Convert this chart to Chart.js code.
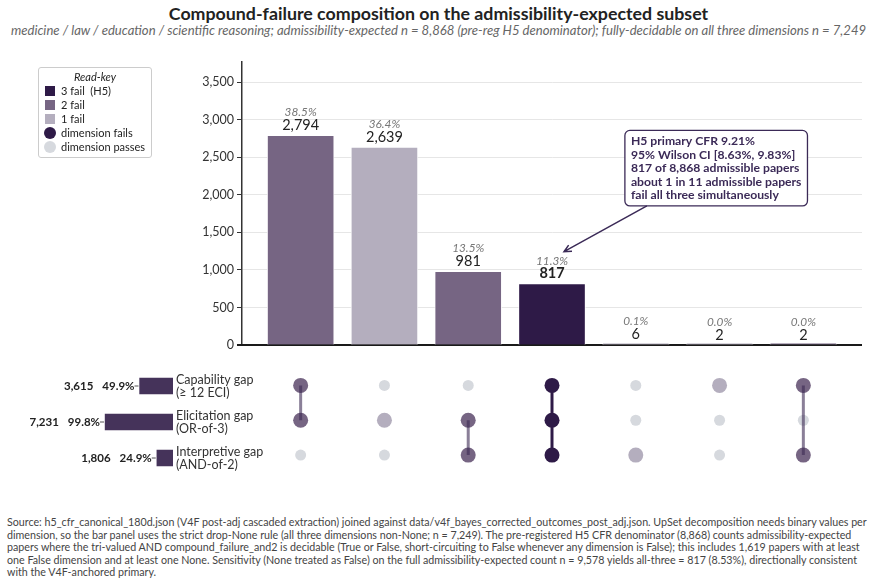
<!DOCTYPE html>
<html>
<head>
<meta charset="utf-8">
<script src="https://cdn.jsdelivr.net/npm/chart.js@4.4.1/dist/chart.umd.min.js"></script>
<style>
  body { margin: 0; background: #fff; font-family: Lato, "Noto Sans", sans-serif; }
  #wrap { position: relative; width: 877px; height: 583px; overflow: hidden; background: #fff; }
  #wrap canvas { position: absolute; }
  #title { position: absolute; left: 0; top: 2px; width: 877px; text-align: center; font-weight: bold; font-size: 17.8px; color: #222; }
  #subtitle { position: absolute; left: 0; top: 22px; width: 877px; text-align: center; font-style: italic; font-size: 13.1px; color: #666; white-space: nowrap; }
  #legend { position: absolute; left: 38px; top: 67px; width: 112px; height: 89px; border: 1px solid #ccc; border-radius: 3px; font-size: 11px; color: #222; }
  #legend .hd { text-align: center; font-style: italic; margin-top: 1px; height: 15px; line-height: 15px; }
  #legend .it { position: relative; height: 14px; line-height: 14px; padding-left: 22px; }
  #legend .mk { position: absolute; left: 6px; top: 2px; width: 10px; height: 10px; }
  #legend .dot { position: absolute; left: 5px; top: 1px; width: 12px; height: 12px; border-radius: 50%; }
  #footer { position: absolute; left: 7px; top: 516px; font-size: 10.7px; line-height: 12.6px; color: #444; white-space: nowrap; }
</style>
</head>
<body>
<div id="wrap">
  <div id="title">Compound-failure composition on the admissibility-expected subset</div>
  <div id="subtitle">medicine / law / education / scientific reasoning; admissibility-expected n = 8,868 (pre-reg H5 denominator); fully-decidable on all three dimensions n = 7,249</div>
  <canvas id="bars" width="877" height="360" style="left:0;top:0;width:877px;height:360px"></canvas>
  <canvas id="matrix" width="877" height="120" style="left:0;top:360px;width:877px;height:120px"></canvas>
  <canvas id="sets" width="300" height="120" style="left:0;top:360px;width:300px;height:120px"></canvas>
  <div id="legend">
    <div class="hd">Read-key</div>
    <div class="it"><span class="mk" style="background:#2e1a47"></span>3 fail&nbsp; (H5)</div>
    <div class="it"><span class="mk" style="background:#766583"></span>2 fail</div>
    <div class="it"><span class="mk" style="background:#b4aebe"></span>1 fail</div>
    <div class="it"><span class="dot" style="background:#2e1a47"></span>dimension fails</div>
    <div class="it"><span class="dot" style="background:#d6d9de"></span>dimension passes</div>
  </div>
  <div id="footer">Source: h5_cfr_canonical_180d.json (V4F post-adj cascaded extraction) joined against data/v4f_bayes_corrected_outcomes_post_adj.json. UpSet decomposition needs binary values per<br>dimension, so the bar panel uses the strict drop-None rule (all three dimensions non-None; n = 7,249). The pre-registered H5 CFR denominator (8,868) counts admissibility-expected<br>papers where the tri-valued AND compound_failure_and2 is decidable (True or False, short-circuiting to False whenever any dimension is False); this includes 1,619 papers with at least<br>one False dimension and at least one None. Sensitivity (None treated as False) on the full admissibility-expected count n = 9,578 yields all-three = 817 (8.53%), directionally consistent<br>with the V4F-anchored primary.</div>
</div>
<script>
// intersection counts, left to right (n = 7,249 fully decidable)
const counts = [2794, 2639, 981, 817, 6, 2, 2];
// which dimension fails in each intersection (1 = fails)
const capFail    = [1, 0, 0, 1, 0, 1, 1];
const elicFail   = [1, 1, 1, 1, 0, 0, 0];
const interpFail = [0, 0, 1, 1, 1, 0, 1];
const decidableN = 7249;
const yTicks = [0, 500, 1000, 1500, 2000, 2500, 3000, 3500];

const dimNames = [['Capability gap', '(≥ 12 ECI)'], ['Elicitation gap', '(OR-of-3)'], ['Interpretive gap', '(AND-of-2)']];
const setSizes = [3615, 7231, 1806];

const annotLines = [
  'H5 primary CFR 9.21%',
  '95% Wilson CI [8.63%, 9.83%]',
  '817 of 8,868 admissible papers',
  'about 1 in 11 admissible papers',
  'fail all three simultaneously'
];

const failColors = { 1: '#b4aebe', 2: '#766583', 3: '#2e1a47' };
const passColor = '#d6d9de';
const FONT = 'Lato, "Noto Sans", sans-serif';

const rows = [capFail, elicFail, interpFail];
const nFail = counts.map((_, i) => capFail[i] + elicFail[i] + interpFail[i]);
const colColors = nFail.map(n => failColors[n]);
const xMin = -0.7, xMax = counts.length - 0.3;

// baseline + bar labels + annotation callout
const barDeco = {
  id: 'barDeco',
  beforeDatasetsDraw(chart) {
    const { ctx, chartArea, scales } = chart;
    const y0 = scales.y.getPixelForValue(0);
    ctx.save();
    ctx.strokeStyle = '#1a1a1a';
    ctx.lineWidth = 2;
    ctx.beginPath();
    ctx.moveTo(chartArea.left - 5, y0);
    ctx.lineTo(chartArea.right, y0);
    ctx.stroke();
    ctx.restore();
  },
  afterDatasetsDraw(chart) {
    const { ctx, scales } = chart;
    const xs = scales.x, ys = scales.y;
    ctx.save();
    ctx.textAlign = 'center';
    ctx.textBaseline = 'middle';
    counts.forEach((v, i) => {
      const x = xs.getPixelForValue(i);
      const top = ys.getPixelForValue(v);
      ctx.fillStyle = '#777';
      ctx.font = 'italic 11.8px ' + FONT;
      ctx.fillText((v / decidableN * 100).toFixed(1) + '%', x, top - 23);
      ctx.fillStyle = '#222';
      ctx.font = (nFail[i] === 3 ? 'bold ' : '') + '14.5px ' + FONT;
      ctx.fillText(v.toLocaleString('en-US'), x, top - 10);
    });

    // callout box
    const bx = xs.getPixelForValue(3.87);
    const by = ys.getPixelForValue(2860);
    ctx.font = 'bold 12.2px ' + FONT;
    const w = Math.max(...annotLines.map(t => ctx.measureText(t).width)) + 12;
    const h = annotLines.length * 13.5 + 8;
    ctx.fillStyle = '#fff';
    ctx.strokeStyle = '#3b2a57';
    ctx.lineWidth = 1.3;
    ctx.beginPath();
    ctx.roundRect(bx, by, w, h, 5);
    ctx.fill();
    ctx.stroke();
    ctx.fillStyle = '#3b2a57';
    ctx.textAlign = 'left';
    annotLines.forEach((t, k) => ctx.fillText(t, bx + 6, by + 11 + k * 13.5));

    // arrow to the all-three bar
    const sx = bx + 22, sy = by + h;
    const tx = xs.getPixelForValue(3) + 12, ty = ys.getPixelForValue(817) - 32;
    const a = Math.atan2(ty - sy, tx - sx);
    ctx.strokeStyle = '#3b2a57';
    ctx.lineWidth = 1.5;
    ctx.beginPath();
    ctx.moveTo(sx, sy);
    ctx.lineTo(tx, ty);
    ctx.moveTo(tx - 8 * Math.cos(a - 0.45), ty - 8 * Math.sin(a - 0.45));
    ctx.lineTo(tx, ty);
    ctx.lineTo(tx - 8 * Math.cos(a + 0.45), ty - 8 * Math.sin(a + 0.45));
    ctx.stroke();
    ctx.restore();
  }
};

new Chart(document.getElementById('bars'), {
  type: 'bar',
  data: {
    datasets: [{
      data: counts.map((v, i) => ({ x: i, y: v })),
      backgroundColor: colColors,
      borderColor: 'rgba(255,255,255,0.8)',
      borderWidth: 1,
      minBarLength: 2,
      barThickness: 67
    }]
  },
  options: {
    responsive: false,
    animation: false,
    layout: { padding: { left: 190, right: 15, top: 62, bottom: 15 } },
    plugins: { legend: { display: false }, tooltip: { enabled: false } },
    scales: {
      x: { type: 'linear', min: xMin, max: xMax, offset: false, display: false },
      y: {
        min: 0,
        max: Math.max(...counts) * 1.35,
        afterFit: s => { s.width = 52; },
        afterBuildTicks: s => { s.ticks = yTicks.map(v => ({ value: v })); },
        border: { color: '#333', width: 1.5 },
        grid: { color: '#e6e6e6', tickColor: '#333', tickLength: 5 },
        ticks: {
          padding: 3,
          color: '#333',
          font: { family: FONT, size: 12.5 },
          callback: v => v.toLocaleString('en-US')
        }
      }
    }
  },
  plugins: [barDeco]
});

// matrix: dots and connectors
const passPts = [], failPts = [], failCols = [], connectors = [];
counts.forEach((_, c) => {
  const failedRows = [];
  rows.forEach((r, k) => {
    if (r[c]) { failPts.push({ x: c, y: k }); failCols.push(colColors[c]); failedRows.push(k); }
    else passPts.push({ x: c, y: k });
  });
  if (failedRows.length > 1) {
    connectors.push({
      type: 'line',
      data: [{ x: c, y: Math.min(...failedRows) }, { x: c, y: Math.max(...failedRows) }],
      borderColor: nFail[c] === 3 ? '#2e1a47' : 'rgba(60,42,84,0.6)',
      borderWidth: 3,
      pointRadius: 0,
      order: 0
    });
  }
});

new Chart(document.getElementById('matrix'), {
  type: 'scatter',
  data: {
    datasets: [
      ...connectors,
      { data: passPts, pointRadius: 5.5, pointBackgroundColor: passColor, pointBorderWidth: 0, order: 2 },
      { data: failPts, pointRadius: 7.5, pointBackgroundColor: failCols, pointBorderWidth: 0, order: 1 }
    ]
  },
  options: {
    responsive: false,
    animation: false,
    layout: { padding: { left: 242, right: 15, top: 8, bottom: 4 } },
    plugins: { legend: { display: false }, tooltip: { enabled: false } },
    scales: {
      x: { type: 'linear', min: xMin, max: xMax, display: false },
      y: { type: 'linear', min: -0.5, max: 2.5, reverse: true, display: false }
    }
  }
});

// set-size bars and row labels
const setDeco = {
  id: 'setDeco',
  afterDatasetsDraw(chart) {
    const { ctx, scales } = chart;
    ctx.save();
    ctx.textBaseline = 'middle';
    setSizes.forEach((v, k) => {
      const y = scales.y.getPixelForValue(k);
      const left = scales.x.getPixelForValue(v);
      const right = scales.x.getPixelForValue(0);
      ctx.strokeStyle = '#555';
      ctx.lineWidth = 1;
      ctx.beginPath();
      ctx.moveTo(left - 4, y);
      ctx.lineTo(left, y);
      ctx.stroke();
      ctx.fillStyle = '#222';
      ctx.font = 'bold 11.5px ' + FONT;
      ctx.textAlign = 'right';
      const pct = (v / decidableN * 100).toFixed(1) + '%';
      ctx.fillText(pct, left - 4, y);
      const pw = ctx.measureText(pct).width;
      ctx.fillText(v.toLocaleString('en-US'), left - 4 - pw - 9, y);
      ctx.fillStyle = '#333';
      ctx.font = '12.5px ' + FONT;
      ctx.textAlign = 'left';
      ctx.fillText(dimNames[k][0], right + 3, y - 6);
      ctx.fillText(dimNames[k][1], right + 3, y + 7);
    });
    ctx.restore();
  }
};

new Chart(document.getElementById('sets'), {
  type: 'bar',
  data: {
    labels: dimNames.map(d => d[0]),
    datasets: [{
      data: setSizes,
      backgroundColor: '#45335a',
      borderColor: 'rgba(255,255,255,0.6)',
      borderWidth: 0.8,
      barPercentage: 0.5,
      categoryPercentage: 1
    }]
  },
  options: {
    indexAxis: 'y',
    responsive: false,
    animation: false,
    layout: { padding: { left: 104, right: 127, top: 8, bottom: 4 } },
    plugins: { legend: { display: false }, tooltip: { enabled: false } },
    scales: {
      x: { min: 0, max: Math.max(...setSizes), reverse: true, display: false },
      y: { display: false }
    }
  },
  plugins: [setDeco]
});
</script>
</body>
</html>
